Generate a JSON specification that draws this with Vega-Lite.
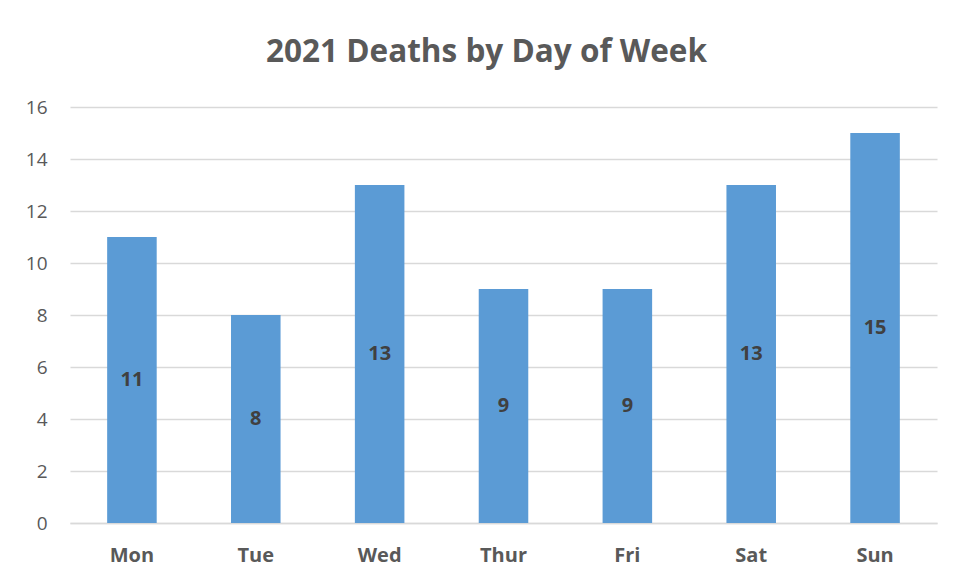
{
  "$schema": "https://vega.github.io/schema/vega-lite/v6.json",
  "width": 867,
  "height": 416,
  "autosize": {"type": "none"},
  "padding": {"left": 70, "top": 107, "right": 19, "bottom": 57},
  "background": "white",
  "config": {
    "view": {"stroke": null},
    "font": "Open Sans"
  },
  "title": {
    "text": "2021 Deaths by Day of Week",
    "font": "Open Sans",
    "fontSize": 31.5,
    "fontWeight": "bold",
    "color": "#595959",
    "anchor": "middle",
    "frame": "group",
    "baseline": "alphabetic",
    "offset": 5,
    "dx": -17
  },
  "data": {
    "values": [
      {"day": "Mon", "deaths": 11},
      {"day": "Tue", "deaths": 8},
      {"day": "Wed", "deaths": 13},
      {"day": "Thur", "deaths": 9},
      {"day": "Fri", "deaths": 9},
      {"day": "Sat", "deaths": 13},
      {"day": "Sun", "deaths": 15}
    ]
  },
  "encoding": {
    "x": {
      "field": "day",
      "type": "nominal",
      "sort": null,
      "scale": {"paddingInner": 0.6, "paddingOuter": 0.3},
      "axis": {
        "title": null,
        "labelAngle": 0,
        "labelFont": "Open Sans",
        "labelFontSize": 20,
        "labelFontWeight": "bold",
        "labelColor": "#595959",
        "labelPadding": 22,
        "ticks": false,
        "domainColor": "#D9D9D9",
        "domainWidth": 1.5
      }
    }
  },
  "layer": [
    {
      "mark": {"type": "bar", "color": "#5B9BD5"},
      "encoding": {
        "y": {
          "field": "deaths",
          "type": "quantitative",
          "scale": {"domain": [0, 16], "nice": false},
          "axis": {
            "title": null,
            "values": [0, 2, 4, 6, 8, 10, 12, 14, 16],
            "labelFont": "Open Sans",
            "labelFontSize": 19,
            "labelColor": "#595959",
            "labelPadding": 23,
            "ticks": false,
            "domain": false,
            "gridColor": "#D9D9D9",
            "gridWidth": 1.5
          }
        }
      }
    },
    {
      "mark": {"type": "text", "font": "Open Sans", "fontSize": 20, "fontWeight": "bold", "color": "#404040", "baseline": "middle"},
      "encoding": {
        "y": {
          "field": "deaths",
          "type": "quantitative",
          "scale": {"domain": [0, 32], "nice": false},
          "axis": null
        },
        "text": {"field": "deaths", "type": "quantitative"}
      }
    }
  ],
  "resolve": {"scale": {"y": "independent"}}
}
